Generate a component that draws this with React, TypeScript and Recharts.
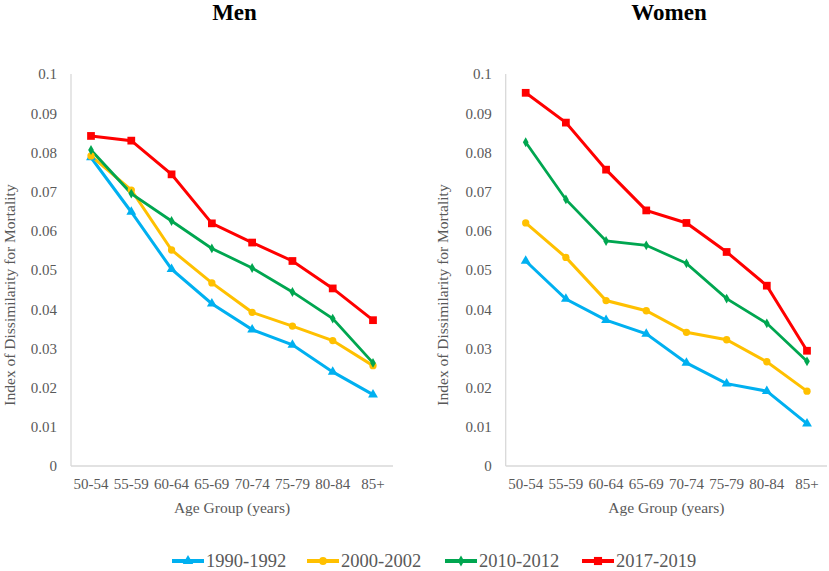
import React from 'react';
import { LineChart, Line, XAxis, YAxis, Symbols } from 'recharts';

const ageGroups = ['50-54', '55-59', '60-64', '65-69', '70-74', '75-79', '80-84', '85+'];

const men1990 = [0.0787, 0.0648, 0.0502, 0.0414, 0.0348, 0.0309, 0.024, 0.0182];
const men2000 = [0.0791, 0.0704, 0.0551, 0.0467, 0.0392, 0.0357, 0.032, 0.0256];
const men2010 = [0.0806, 0.0695, 0.0625, 0.0555, 0.0505, 0.0444, 0.0376, 0.0263];
const men2017 = [0.0842, 0.083, 0.0744, 0.0619, 0.057, 0.0523, 0.0453, 0.0372];

const women1990 = [0.0523, 0.0426, 0.0372, 0.0337, 0.0263, 0.021, 0.0191, 0.0108];
const women2000 = [0.062, 0.0532, 0.0422, 0.0396, 0.0341, 0.0322, 0.0266, 0.0191];
const women2010 = [0.0826, 0.068, 0.0574, 0.0563, 0.0517, 0.0427, 0.0364, 0.0267];
const women2017 = [0.0952, 0.0876, 0.0756, 0.0652, 0.062, 0.0546, 0.046, 0.0294];

const yTicks = [0, 0.01, 0.02, 0.03, 0.04, 0.05, 0.06, 0.07, 0.08, 0.09, 0.1];

const seriesNames = ['1990-1992', '2000-2002', '2010-2012', '2017-2019'];
const seriesKeys = ['s1990', 's2000', 's2010', 's2017'];
const seriesColors = ['#00B0F0', '#FFC000', '#00A650', '#FF0000'];
const seriesSymbols: ('triangle' | 'circle' | 'diamond' | 'square')[] = ['triangle', 'circle', 'diamond', 'square'];
const symbolSizes = [42, 42, 28, 60];
const lineWidths = [3, 3, 2.8, 3];

const FONT = 'Liberation Serif';
const TEXT_COLOR = '#595959';
const AXIS_COLOR = '#D9D9D9';

function buildRows(a: number[], b: number[], c: number[], d: number[]) {
  return ageGroups.map((age, i) => ({ age, s1990: a[i], s2000: b[i], s2010: c[i], s2017: d[i] }));
}

const menData = buildRows(men1990, men2000, men2010, men2017);
const womenData = buildRows(women1990, women2000, women2010, women2017);

function makeDot(idx: number) {
  return (props: any) => {
    const { cx, cy, index } = props;
    if (cx == null || cy == null) return <g key={`d-${idx}-${index}`} />;
    return (
      <Symbols
        key={`d-${idx}-${index}`}
        cx={cx}
        cy={cy}
        type={seriesSymbols[idx]}
        size={symbolSizes[idx]}
        fill={seriesColors[idx]}
        stroke="none"
      />
    );
  };
}

function yLabel(xPos: number) {
  return (props: any) => {
    const vb = props.viewBox || {};
    const cy = (vb.y ?? 0) + (vb.height ?? 0) / 2 + 25;
    return (
      <text
        x={xPos}
        y={cy}
        transform={`rotate(-90, ${xPos}, ${cy})`}
        textAnchor="middle"
        dominantBaseline="central"
        fontFamily={FONT}
        fontSize={15.5}
        fill={TEXT_COLOR}
      >
        Index of Dissimilarity for Mortality
      </text>
    );
  };
}

function xLabel() {
  return (props: any) => {
    const vb = props.viewBox || {};
    const cx = (vb.x ?? 0) + (vb.width ?? 0) / 2;
    const cy = (vb.y ?? 0) + 41;
    return (
      <text x={cx} y={cy} textAnchor="middle" dominantBaseline="central" fontFamily={FONT} fontSize={15.5} fill={TEXT_COLOR}>
        Age Group (years)
      </text>
    );
  };
}

function Panel({ data, left, width, yWidth, right, labelX }: any) {
  return (
    <div style={{ position: 'absolute', left, top: 0, fontFamily: FONT }}>
      <LineChart width={width} height={520} data={data} margin={{ top: 74, right, bottom: 0, left: 0 }}>
        <XAxis
          dataKey="age"
          padding={{ left: 20, right: 20 }}
          axisLine={{ stroke: AXIS_COLOR, strokeWidth: 1.3 }}
          tickLine={false}
          tickMargin={6}
          height={54}
          interval={0}
          fontFamily={FONT}
          fontSize={15}
          tick={{ fontFamily: FONT, fontSize: 15, fill: TEXT_COLOR }}
          label={xLabel() as any}
        />
        <YAxis
          domain={[0, 0.1]}
          ticks={yTicks}
          tickFormatter={(v: number) => String(v)}
          width={yWidth}
          axisLine={{ stroke: AXIS_COLOR, strokeWidth: 1.3 }}
          tickLine={false}
          tickMargin={8}
          interval={0}
          fontFamily={FONT}
          fontSize={15}
          tick={{ fontFamily: FONT, fontSize: 15, fill: TEXT_COLOR }}
          label={yLabel(labelX) as any}
        />
        {seriesKeys.map((k, i) => (
          <Line
            key={k}
            dataKey={k}
            name={seriesNames[i]}
            stroke={seriesColors[i]}
            strokeWidth={lineWidths[i]}
            dot={makeDot(i)}
            activeDot={false}
            isAnimationActive={false}
            type="linear"
          />
        ))}
      </LineChart>
    </div>
  );
}

function LegendRow() {
  const starts = [172, 307, 445, 582];
  return (
    <svg width={829} height={30} style={{ position: 'absolute', left: 0, top: 546 }}>
      {seriesNames.map((name, i) => {
        const x = starts[i];
        const cy = 15;
        return (
          <g key={name}>
            <line x1={x} y1={cy} x2={x + 32} y2={cy} stroke={seriesColors[i]} strokeWidth={4} />
            <Symbols cx={x + 16} cy={cy} type={seriesSymbols[i]} size={symbolSizes[i] + 6} fill={seriesColors[i]} stroke="none" />
            <text x={x + 34} y={cy} dominantBaseline="central" fontFamily={FONT} fontSize={18.5} fill={TEXT_COLOR}>
              {name}
            </text>
          </g>
        );
      })}
    </svg>
  );
}

export default function App() {
  return (
    <div style={{ position: 'absolute', left: 0, top: 0, width: 829, height: 571, background: '#fff', overflow: 'hidden', fontFamily: FONT }}>
      <div style={{ position: 'absolute', left: 0, top: 0, width: 469, textAlign: 'center', fontFamily: FONT, fontWeight: 'bold', fontSize: 23, lineHeight: '26px', color: '#000' }}>
        Men
      </div>
      <div style={{ position: 'absolute', left: 510, top: 0, width: 318, textAlign: 'center', fontFamily: FONT, fontWeight: 'bold', fontSize: 23, lineHeight: '26px', color: '#000' }}>
        Women
      </div>
      <Panel data={menData} left={0} width={410} yWidth={71} right={17} labelX={9} />
      <Panel data={womenData} left={430} width={399} yWidth={75.7} right={2} labelX={12} />
      <LegendRow />
    </div>
  );
}
